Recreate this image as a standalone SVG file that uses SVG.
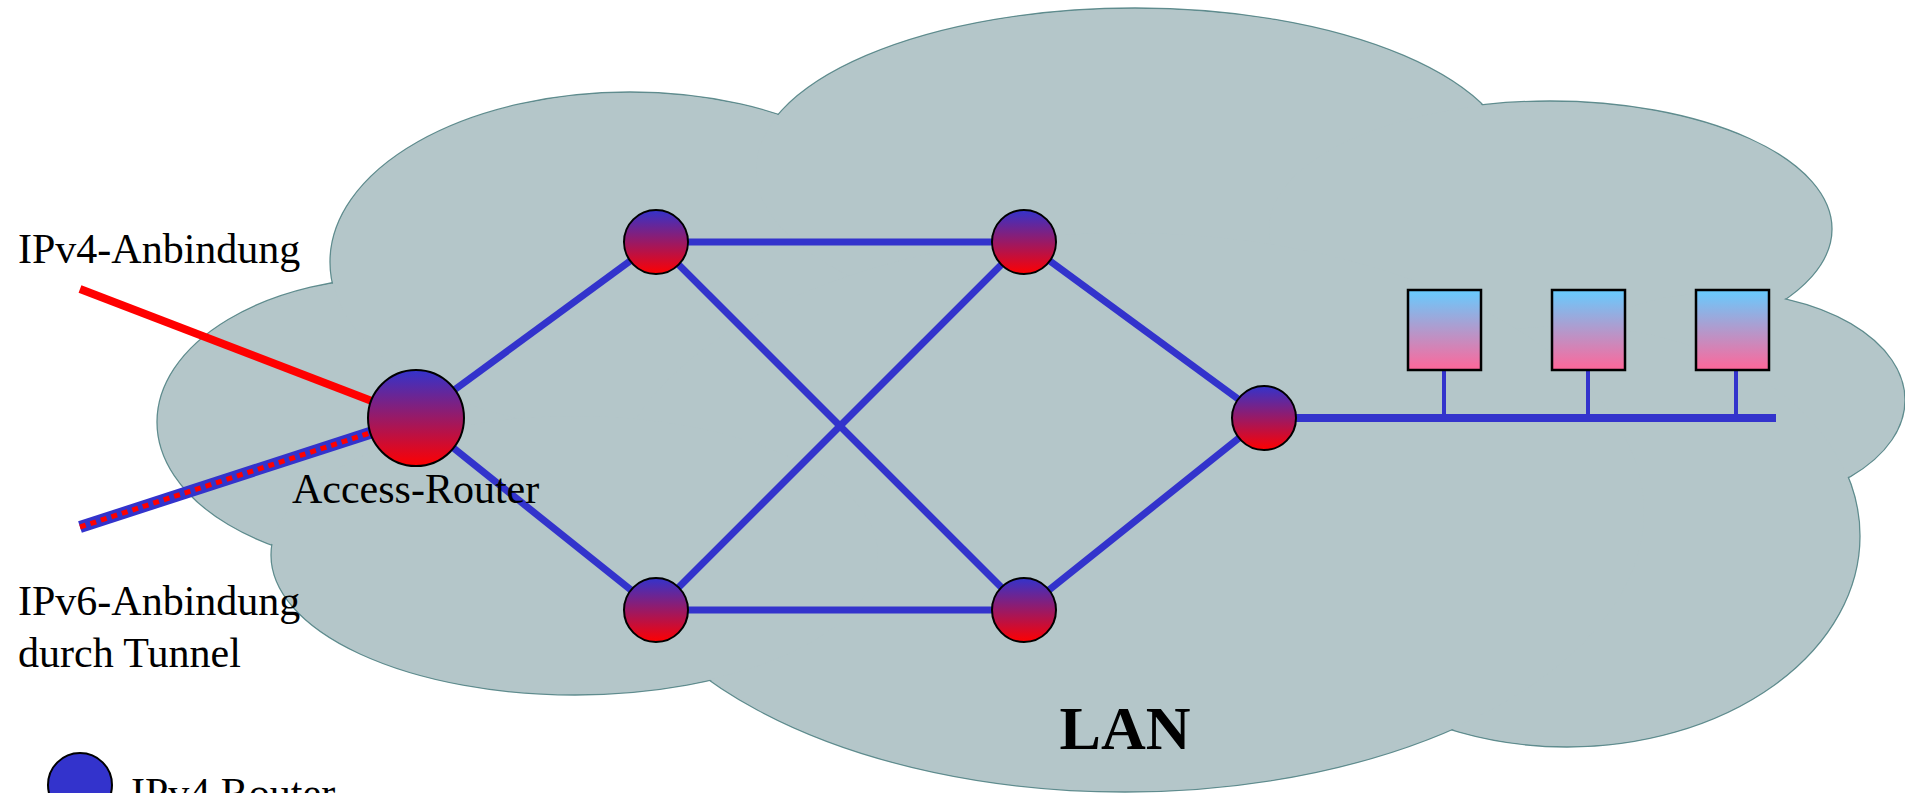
<svg xmlns="http://www.w3.org/2000/svg" width="1905" height="793" viewBox="0 0 1905 793">
<style>
.lobe{fill:#b4c6c9;stroke:#5f8c8e;stroke-width:1.3}
.lobefill{fill:#b4c6c9;stroke:none}
.edge{stroke:#3333cc;stroke-width:7;fill:none}
.node{fill:url(#ng);stroke:#000;stroke-width:2}
.host{fill:url(#hg);stroke:#000;stroke-width:2.5}
.drop{stroke:#3333cc;stroke-width:4}
text{font-family:"Liberation Serif","Times New Roman",serif;fill:#000}
.lbl{font-size:42px}
</style>
<defs>
<linearGradient id="ng" x1="0" y1="0" x2="0" y2="1">
<stop offset="0" stop-color="#3333cc"/>
<stop offset="1" stop-color="#ff0000"/>
</linearGradient>
<linearGradient id="hg" x1="0" y1="0" x2="0" y2="1">
<stop offset="0" stop-color="#66ccff"/>
<stop offset="1" stop-color="#ff6699"/>
</linearGradient>
</defs>
<g id="cloud">
<ellipse class="lobe" cx="400" cy="422" rx="243" ry="145"/>
<ellipse class="lobe" cx="630" cy="262" rx="300" ry="170"/>
<ellipse class="lobe" cx="1135" cy="170" rx="380" ry="162"/>
<ellipse class="lobe" cx="1550" cy="229" rx="282" ry="128"/>
<ellipse class="lobe" cx="1720" cy="400" rx="185" ry="108"/>
<ellipse class="lobe" cx="1567" cy="536" rx="293" ry="211"/>
<ellipse class="lobe" cx="1125" cy="512" rx="520" ry="280"/>
<ellipse class="lobe" cx="575" cy="555" rx="304" ry="140"/>
<ellipse class="lobefill" cx="400" cy="422" rx="242" ry="144"/>
<ellipse class="lobefill" cx="630" cy="262" rx="299" ry="169"/>
<ellipse class="lobefill" cx="1135" cy="170" rx="379" ry="161"/>
<ellipse class="lobefill" cx="1550" cy="229" rx="281" ry="127"/>
<ellipse class="lobefill" cx="1720" cy="400" rx="184" ry="107"/>
<ellipse class="lobefill" cx="1567" cy="536" rx="292" ry="210"/>
<ellipse class="lobefill" cx="1125" cy="512" rx="519" ry="279"/>
<ellipse class="lobefill" cx="575" cy="555" rx="303" ry="139"/>
</g>
<g id="connectors">
<line x1="80" y1="289" x2="416" y2="418" stroke="#ff0000" stroke-width="8"/>
<line x1="80" y1="527" x2="416" y2="418" stroke="#3333cc" stroke-width="12"/>
<line x1="80" y1="527" x2="416" y2="418" stroke="#ff0000" stroke-width="5" stroke-dasharray="6 5"/>
<line class="edge" x1="416" y1="418" x2="656" y2="242"/>
<line class="edge" x1="416" y1="418" x2="656" y2="610"/>
<line class="edge" x1="656" y1="242" x2="1024" y2="242"/>
<line class="edge" x1="656" y1="610" x2="1024" y2="610"/>
<line class="edge" x1="656" y1="242" x2="1024" y2="610"/>
<line class="edge" x1="656" y1="610" x2="1024" y2="242"/>
<line class="edge" x1="1024" y1="242" x2="1264" y2="418"/>
<line class="edge" x1="1024" y1="610" x2="1264" y2="418"/>
<line x1="1264" y1="418" x2="1776" y2="418" stroke="#3333cc" stroke-width="8"/>
<line class="drop" x1="1444" y1="370" x2="1444" y2="418"/>
<line class="drop" x1="1588" y1="370" x2="1588" y2="418"/>
<line class="drop" x1="1736" y1="370" x2="1736" y2="418"/>
</g>
<g id="access-router">
<circle class="node" cx="416" cy="418" r="48"/>
<text class="lbl" x="292" y="503">Access-Router</text>
</g>
<g id="router-tl"><circle class="node" cx="656" cy="242" r="32"/></g>
<g id="router-tr"><circle class="node" cx="1024" cy="242" r="32"/></g>
<g id="router-bl"><circle class="node" cx="656" cy="610" r="32"/></g>
<g id="router-br"><circle class="node" cx="1024" cy="610" r="32"/></g>
<g id="router-r"><circle class="node" cx="1264" cy="418" r="32"/></g>
<g id="host1"><rect class="host" x="1408" y="290" width="73" height="80"/></g>
<g id="host2"><rect class="host" x="1552" y="290" width="73" height="80"/></g>
<g id="host3"><rect class="host" x="1696" y="290" width="73" height="80"/></g>
<g id="label-ipv4">
<text class="lbl" x="18" y="263">IPv4-Anbindung</text>
</g>
<g id="label-ipv6">
<text class="lbl" x="18" y="615">IPv6-Anbindung</text>
<text class="lbl" x="18" y="667">durch Tunnel</text>
</g>
<g id="label-lan">
<text x="1125" y="749" font-size="62" font-weight="bold" text-anchor="middle">LAN</text>
</g>
<g id="legend">
<circle cx="80" cy="785" r="32" fill="#3333cc" stroke="#000" stroke-width="2"/>
<text class="lbl" x="131" y="807">IPv4 Router</text>
</g>
</svg>
